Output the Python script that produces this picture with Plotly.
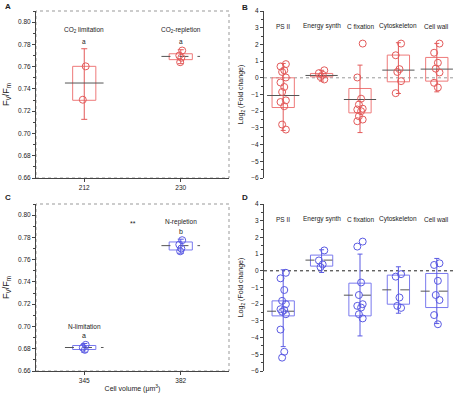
import plotly.graph_objects as go

# ---------------- DATA ----------------
# Panel A (CO2) : Fv/Fm by cell volume
a_ticks = ["212", "230"]
a_labels = ["CO<sub>2</sub> limitation", "CO<sub>2</sub>-repletion"]
a_letters = ["a", "a"]
a_q1 = [0.7298, 0.7663]
a_q3 = [0.7603, 0.7716]
a_med = [0.7453, 0.7692]
a_lo = [0.7127, 0.7627]
a_hi = [0.7761, 0.7752]
a_pts = [[0.7603, 0.7303], [0.7745, 0.7700, 0.7680, 0.7640]]

# Panel C (N) : Fv/Fm by cell volume
c_ticks = ["345", "382"]
c_labels = ["N-limitation", "N-repletion"]
c_letters = ["a", "b"]
c_q1 = [0.6793, 0.7687]
c_q3 = [0.6829, 0.7759]
c_med = [0.6811, 0.7726]
c_lo = [0.6769, 0.7658]
c_hi = [0.6847, 0.7784]
c_pts = [[0.6835, 0.6810, 0.6790], [0.7775, 0.7735, 0.7700, 0.7675]]

# Panels B and D : log2 fold change by functional category
cats = ["PS II", "Energy synth", "C fixation", "Cytoskeleton", "Cell wall"]

b_q1 = [-1.78, 0.06, -2.10, -0.24, -0.20]
b_q3 = [0.00, 0.26, -0.64, 1.36, 1.22]
b_med = [-1.06, 0.14, -1.30, 0.46, 0.52]
b_lo = [-3.15, -0.20, -3.28, -0.94, -0.84]
b_hi = [0.86, 0.45, 0.76, 2.10, 2.06]
b_pts = [
    [0.82, 0.68, 0.45, 0.35, 0.02, -0.28, -0.55, -0.85, -1.35, -1.45, -1.70, -2.80, -3.10],
    [0.45, 0.28, 0.18, 0.05, -0.10],
    [2.05, 0.02, -1.25, -1.60, -1.85, -1.90, -2.00, -2.30, -2.50, -2.60],
    [2.05, 1.35, 0.52, 0.35, -0.20, -0.92],
    [2.05, 1.50, 0.90, 0.55, 0.32, -0.30, -0.58],
]

d_q1 = [-2.70, 0.28, -2.70, -2.00, -2.20]
d_q3 = [-1.80, 0.94, -0.74, -0.26, -0.16]
d_med = [-2.42, 0.64, -1.46, -1.14, -1.22]
d_lo = [-4.54, -0.10, -3.90, -2.54, -3.16]
d_hi = [0.06, 1.26, 1.00, 0.24, 0.74]
d_pts = [
    [-0.12, -0.45, -1.15, -1.80, -2.00, -2.30, -2.35, -2.45, -2.60, -3.52, -4.85, -5.20],
    [1.22, 0.62, 0.38, 0.22],
    [1.75, 1.45, -0.70, -1.45, -2.00, -2.10, -2.20, -2.60, -2.85],
    [-0.20, -0.35, -1.60, -2.10, -2.22],
    [0.45, 0.35, -0.60, -1.45, -1.75, -2.65, -3.20],
]

# ---------------- STYLE ----------------
RED = "#e35a5a"
RED_BOX = "#ee7a7a"
BLUE = "#5a5ae3"
BLUE_BOX = "#7a7aee"
MED = "#555555"
FONT = "Liberation Sans"
TXT = "#222"

fig = go.Figure()


def add_group(xa, ya, q1, q3, med, lo, hi, pts, color, boxcolor,
              hb, hm, jit, med_dash, cap):
    for i in range(len(q1)):
        c = i
        # box
        fig.add_trace(go.Scatter(
            x=[c - hb, c + hb, c + hb, c - hb, c - hb],
            y=[q1[i], q1[i], q3[i], q3[i], q1[i]],
            mode="lines", line=dict(color=boxcolor, width=1),
            xaxis=xa, yaxis=ya, hoverinfo="skip", showlegend=False))
        # whiskers
        fig.add_trace(go.Scatter(
            x=[c], y=[med[i]], mode="markers", marker=dict(size=0.1, color=color),
            error_y=dict(type="data", symmetric=False,
                         array=[hi[i] - med[i]], arrayminus=[med[i] - lo[i]],
                         color=color, thickness=1, width=cap),
            xaxis=xa, yaxis=ya, hoverinfo="skip", showlegend=False))
        # median
        d = med_dash[i] if isinstance(med_dash, list) else med_dash
        fig.add_trace(go.Scatter(
            x=[c - hm, c + hm], y=[med[i], med[i]], mode="lines",
            line=dict(color=MED, width=1, dash=d),
            xaxis=xa, yaxis=ya, hoverinfo="skip", showlegend=False))
        # points
        p = pts[i]
        xs = [c + (jit if k % 2 == 0 else -jit) * (1 if (k // 2) % 2 == 0 else 0.4)
              for k in range(len(p))]
        fig.add_trace(go.Scatter(
            x=xs, y=p, mode="markers",
            marker=dict(symbol="circle-open", size=7, color=color, line=dict(width=1)),
            xaxis=xa, yaxis=ya, hoverinfo="skip", showlegend=False))


add_group("x", "y", a_q1, a_q3, a_med, a_lo, a_hi, a_pts, RED, RED_BOX,
          0.12, 0.2, 0.015, ["solid", "dash"], 3)
add_group("x2", "y2", b_q1, b_q3, b_med, b_lo, b_hi, b_pts, RED, RED_BOX,
          0.29, 0.42, 0.07, "solid", 2.5)
add_group("x3", "y3", c_q1, c_q3, c_med, c_lo, c_hi, c_pts, BLUE, BLUE_BOX,
          0.12, 0.2, 0.015, "dash", 3)
add_group("x4", "y4", d_q1, d_q3, d_med, d_lo, d_hi, d_pts, BLUE, BLUE_BOX,
          0.29, 0.42, 0.07, "dash", 2.5)

tickfont = dict(family=FONT, size=6.5, color="#222")
ax_common = dict(showgrid=False, zeroline=False, showline=True, linecolor="#444",
                 linewidth=1, ticks="outside", ticklen=3, tickcolor="#444",
                 tickfont=tickfont)

L, R, T, B = 36, 1, 11, 23
W, H = 457, 394
PW, PH = W - L - R, H - T - B

dA = [0, (229 - L) / PW]
dB = [(264 - L) / PW, 1.0]
yTop = [(H - B - 178) / PH, 1.0]
yBot = [0.0, (H - B - 204) / PH]

fig.update_layout(
    width=W, height=H,
    margin=dict(l=L, r=R, t=T, b=B),
    paper_bgcolor="white", plot_bgcolor="white",
    font=dict(family=FONT, size=6.5, color="#222"),
    xaxis=dict(ax_common, domain=dA, anchor="y", range=[-0.5, 1.5],
               tickvals=[0, 1], ticktext=a_ticks),
    yaxis=dict(ax_common, domain=yTop, anchor="x", range=[0.66, 0.81], dtick=0.02,
               tickformat=".2f",
               minor=dict(dtick=0.01, ticks="outside", ticklen=2, tickcolor="#444"),
               title=dict(text="F<sub>V</sub>/F<sub>m</sub>", font=dict(size=9, color=TXT),
                          standoff=6)),
    xaxis2=dict(domain=dB, anchor="y2", range=[-0.5, 4.5], showgrid=False, zeroline=False,
                showline=False, showticklabels=False, ticks=""),
    yaxis2=dict(ax_common, domain=yTop, anchor="x2", range=[-6, 4], dtick=1,
                minor=dict(dtick=0.5, ticks="outside", ticklen=2, tickcolor="#444"),
                title=dict(text="Log<sub>2</sub> (Fold change)", font=dict(size=7, color=TXT),
                           standoff=6)),
    xaxis3=dict(ax_common, domain=dA, anchor="y3", range=[-0.5, 1.5],
                tickvals=[0, 1], ticktext=c_ticks,
                title=dict(text="Cell volume (μm<sup>3</sup>)", font=dict(size=7, color=TXT),
                           standoff=3)),
    yaxis3=dict(ax_common, domain=yBot, anchor="x3", range=[0.66, 0.81], dtick=0.02,
                tickformat=".2f",
                minor=dict(dtick=0.01, ticks="outside", ticklen=2, tickcolor="#444"),
                title=dict(text="F<sub>V</sub>/F<sub>m</sub>", font=dict(size=9, color=TXT),
                           standoff=6)),
    xaxis4=dict(domain=dB, anchor="y4", range=[-0.5, 4.5], showgrid=False, zeroline=False,
                showline=False, showticklabels=False, ticks=""),
    yaxis4=dict(ax_common, domain=yBot, anchor="x4", range=[-6, 4], dtick=1,
                minor=dict(dtick=0.5, ticks="outside", ticklen=2, tickcolor="#444"),
                title=dict(text="Log<sub>2</sub> (Fold change)", font=dict(size=7, color=TXT),
                           standoff=6)),
)

# frames for A and C (dotted grey)
for xr, yr in [("x", "y"), ("x3", "y3")]:
    fig.add_shape(type="rect", xref=f"{xr} domain", yref=f"{yr} domain",
                  x0=0, x1=1, y0=0, y1=1, line=dict(color="#999", width=1, dash="dot"),
                  layer="below")

# zero lines for B and D
fig.add_shape(type="line", xref="x2 domain", yref="y2", x0=0, x1=1, y0=0, y1=0,
              line=dict(color="#999", width=1, dash="dot"), layer="below")
fig.add_shape(type="line", xref="x4 domain", yref="y4", x0=0, x1=1, y0=0, y1=0,
              line=dict(color="#222", width=1, dash="dot"), layer="below")

ann = []
# panel letters (positions in page pixels, converted to plot-area paper coords)
for txt, px, py in [("A", 3, 6), ("B", 240, 7), ("C", 3, 198), ("D", 240, 198)]:
    ann.append(dict(text=f"<b>{txt}</b>", x=(px - L) / PW, y=(H - B - py) / PH,
                    xref="paper", yref="paper", xanchor="left", yanchor="middle",
                    showarrow=False, font=dict(size=8, color=TXT)))

# category labels in B and D
for i, c in enumerate(cats):
    ann.append(dict(text=c, x=i, y=3.1, xref="x2", yref="y2", showarrow=False,
                    font=dict(size=6.5, color=TXT)))
    ann.append(dict(text=c, x=i, y=3.1, xref="x4", yref="y4", showarrow=False,
                    font=dict(size=6.5, color=TXT)))

# A text
for i in range(2):
    ann.append(dict(text=a_labels[i], x=i, y=0.7926, xref="x", yref="y", showarrow=False,
                    font=dict(size=6.5, color=TXT)))
    ann.append(dict(text=a_letters[i], x=i, y=0.7827, xref="x", yref="y", showarrow=False,
                    font=dict(size=6.5, color=TXT)))
# C text
c_label_y = [0.7003, 0.7942]
c_letter_y = [0.6919, 0.7852]
for i in range(2):
    ann.append(dict(text=c_labels[i], x=i, y=c_label_y[i], xref="x3", yref="y3",
                    showarrow=False, font=dict(size=6.5, color=TXT)))
    ann.append(dict(text=c_letters[i], x=i, y=c_letter_y[i], xref="x3", yref="y3",
                    showarrow=False, font=dict(size=7, color=TXT)))
ann.append(dict(text="**", x=0.5, y=0.7925, xref="x3", yref="y3", showarrow=False,
                font=dict(size=7, color=TXT)))

fig.update_layout(annotations=ann)

fig.write_html("out.html", config={"displayModeBar": False},
               post_script="document.body.style.margin='0';")
